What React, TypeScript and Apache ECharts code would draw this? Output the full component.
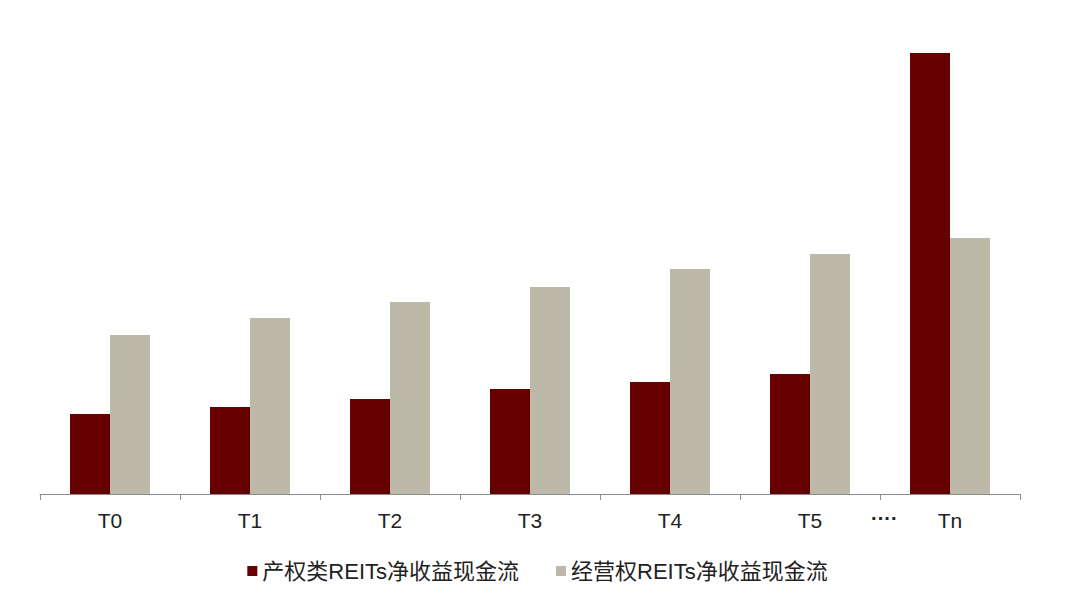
import React, { useEffect, useRef } from 'react';
import * as echarts from 'echarts';

const CATEGORIES = ['T0', 'T1', 'T2', 'T3', 'T4', 'T5', 'Tn'];
const PROPERTY_VALUES = [80, 87, 95, 105, 112, 120, 441];
const OPERATING_VALUES = [159, 176, 192, 207, 225, 240, 256];
const SERIES_NAMES = ['产权类REITs净收益现金流', '经营权REITs净收益现金流'];

const FONT = 'Liberation Sans, Arial, Noto Sans CJK SC, sans-serif';
const DARK = '#660000';
const LIGHT = '#BCB9A8';

const App = (): JSX.Element => {
  const divEL = useRef(null);

  useEffect(() => {
    const chartDOM = divEL.current;
    const instance = echarts.init(chartDOM as any, null, { renderer: 'svg' });

    const option: echarts.EChartsOption = {
      animation: false,
      backgroundColor: '#ffffff',
      textStyle: { fontFamily: FONT },
      grid: {
        top: 34,
        bottom: 105,
        left: 40,
        right: 55,
      },
      legend: {
        bottom: 12,
        left: 'center',
        itemWidth: 10,
        itemHeight: 10,
        itemGap: 37,
        icon: 'rect',
        textStyle: { fontSize: 22, color: '#222', fontFamily: FONT },
        data: SERIES_NAMES,
      },
      xAxis: {
        type: 'category',
        data: CATEGORIES,
        axisLine: { lineStyle: { color: '#8c8c8c', width: 1 } },
        axisTick: { show: true, length: 6, lineStyle: { color: '#8c8c8c' } },
        axisLabel: { fontSize: 21, color: '#222', margin: 16, fontFamily: FONT },
      },
      yAxis: {
        type: 'value',
        min: 0,
        max: 460,
        show: false,
        splitLine: { show: false },
      },
      graphic: [
        {
          type: 'text',
          left: 871,
          top: 508,
          style: { text: '····', fill: '#222', font: `bold 20px ${FONT}` },
        },
      ],
      series: [
        {
          name: SERIES_NAMES[0],
          type: 'bar',
          data: PROPERTY_VALUES,
          barWidth: 40,
          barGap: '0%',
          itemStyle: { color: DARK },
        },
        {
          name: SERIES_NAMES[1],
          type: 'bar',
          data: OPERATING_VALUES,
          barWidth: 40,
          barGap: '0%',
          itemStyle: { color: LIGHT },
        },
      ],
    };

    instance.setOption(option);

    return () => {
      instance.dispose();
    };
  }, []);

  return (
    <div
      ref={divEL}
      style={{ position: 'absolute', left: 0, top: 0, width: 1075, height: 599 }}
    ></div>
  );
};

export default App;
